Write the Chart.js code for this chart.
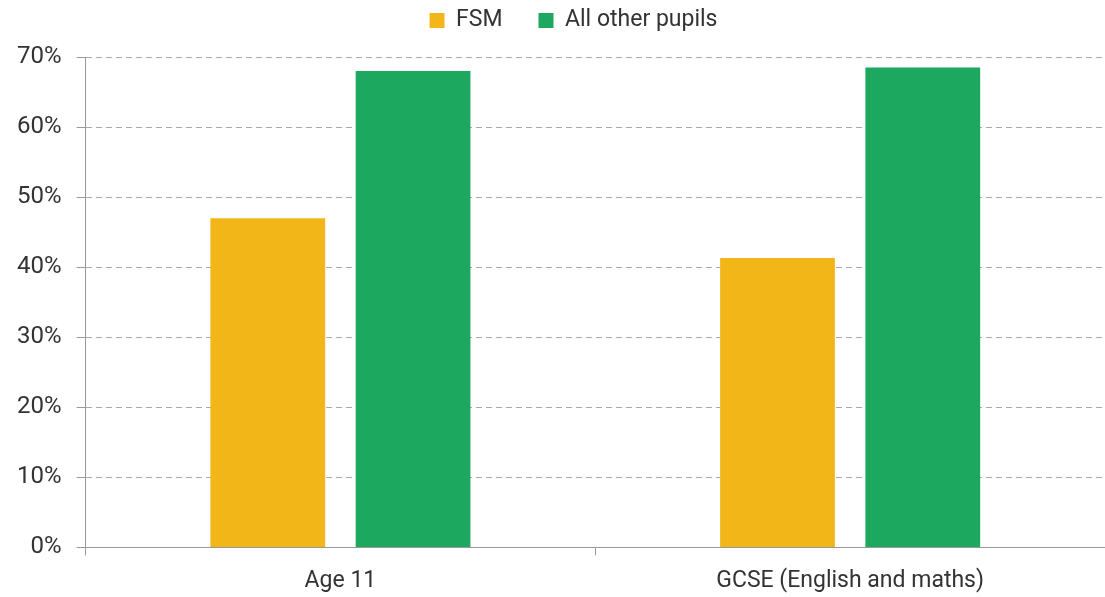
<!DOCTYPE html>
<html>
<head>
<meta charset="utf-8">
<script src="https://cdn.jsdelivr.net/npm/chart.js@4/dist/chart.umd.min.js"></script>
<style>
    html, body { margin: 0; padding: 0; background: #fff; }
    #wrap { width: 1105px; height: 597px; }
</style>
</head>
<body>
<div id="wrap"><canvas id="attainmentChart"></canvas></div>
<script>
const stages = ['Age 11', 'GCSE (English and maths)'];
const fsmValues = [47.0, 41.3];
const otherValues = [68.0, 68.5];
const yTicks = [0, 10, 20, 30, 40, 50, 60, 70];

const FONT = 'Roboto, "Liberation Sans", sans-serif';
const TEXT = '#333333';
const AXIS = '#999999';

// legend: wide gaps between items but a short box above the plot
const LEGEND_PAD = 36;
const LEGEND_HEIGHT = 57;
const LEGEND_LIFT = 27;
const LEGEND_SHIFT = 20;

const legendLayout = {
    id: 'legendLayout',
    afterInit(chart) {
        const legend = chart.legend;
        const fit = legend.fit;
        legend.fit = function () {
            fit.call(this);
            this.height = LEGEND_HEIGHT;
        };
    },
    afterLayout(chart) {
        const legend = chart.legend;
        legend.top -= LEGEND_LIFT;
        legend.left += LEGEND_SHIFT;
        legend.right += LEGEND_SHIFT;
    }
};

const ctx = document.getElementById('attainmentChart').getContext('2d');
new Chart(ctx, {
    type: 'bar',
    data: {
        labels: stages,
        datasets: [{
            label: 'FSM',
            data: fsmValues,
            backgroundColor: '#F2B619',
            categoryPercentage: 0.57,
            barPercentage: 0.79
        }, {
            label: 'All other pupils',
            data: otherValues,
            backgroundColor: '#1CA85F',
            categoryPercentage: 0.57,
            barPercentage: 0.79
        }]
    },
    options: {
        responsive: true,
        maintainAspectRatio: false,
        animation: false,
        layout: { padding: { left: 2, right: 0, top: 0, bottom: 0 } },
        plugins: {
            tooltip: { enabled: false },
            legend: {
                position: 'top',
                labels: {
                    boxWidth: 15,
                    boxHeight: 15,
                    padding: LEGEND_PAD,
                    color: TEXT,
                    font: { family: FONT, size: 23 }
                }
            }
        },
        scales: {
            x: {
                afterFit: scale => {
                    scale.height -= 10;
                },
                grid: {
                    drawOnChartArea: false,
                    color: AXIS,
                    tickLength: 8
                },
                border: { color: AXIS, width: 1 },
                ticks: {
                    color: TEXT,
                    padding: 12,
                    font: { family: FONT, size: 23 }
                }
            },
            y: {
                min: 0,
                max: 70,
                afterBuildTicks: axis => {
                    axis.ticks = yTicks.map(v => ({ value: v }));
                },
                grid: {
                    color: '#AAAAAA',
                    tickColor: AXIS,
                    tickLength: 9,
                    tickBorderDash: [],
                    lineWidth: 1
                },
                border: { color: AXIS, width: 1, dash: [6, 4] },
                ticks: {
                    color: TEXT,
                    padding: 15,
                    font: { family: FONT, size: 24 },
                    callback: v => v + '%'
                }
            }
        }
    },
    plugins: [legendLayout]
});
</script>
</body>
</html>
